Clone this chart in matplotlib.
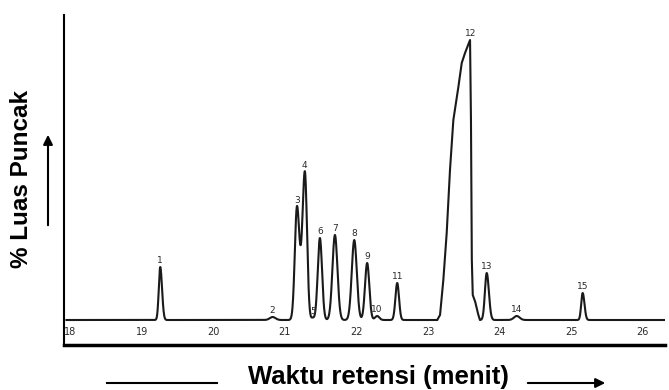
import numpy as np
import matplotlib
matplotlib.use("Agg")
import matplotlib.pyplot as plt
from matplotlib.lines import Line2D

# puncak kromatogram
peak_no = [str(i) for i in range(1, 16)]
peak_rt = [19.26, 20.83, 21.17, 21.28, 21.39, 21.49, 21.70, 21.97, 22.15, 22.29,
           22.57, 23.59, 23.82, 24.24, 25.16]
peak_h = [53, 3, 113, 148, 2, 82, 85, 80, 57, 4, 37, 280, 47, 4, 27]
sig_left = [0.02, 0.04, 0.03, 0.035, 0.02, 0.03, 0.035, 0.035, 0.03, 0.03,
            0.025, None, 0.025, 0.04, 0.02]
sig_right = [0.025, 0.04, 0.035, 0.03, 0.02, 0.03, 0.035, 0.035, 0.03, 0.03,
             0.025, None, 0.03, 0.04, 0.025]

# puncak 12 (besar, tidak simetris) dibaca titik demi titik
p12_t = [23.13, 23.144, 23.168, 23.214, 23.261, 23.307, 23.354, 23.424, 23.471,
         23.517, 23.587, 23.600, 23.612, 23.625, 23.66, 23.70, 23.725]
p12_h = [0, 2, 5, 40, 87, 150, 200, 233, 257, 267, 280, 200, 60, 25, 18, 6, 0]

ticks = [18, 19, 20, 21, 22, 23, 24, 25, 26]


def gauss(t, rt, h, sl, sr):
    s = np.where(t < rt, sl, sr)
    return h * np.exp(-(t - rt) ** 2 / (2 * s ** 2))


t = np.linspace(17.95, 26.3, 4000)
y = np.zeros_like(t)
for rt, h, sl, sr in zip(peak_rt, peak_h, sig_left, sig_right):
    if sl is None:
        continue
    y += gauss(t, rt, h, sl, sr)

# sisipkan puncak 12
keep = (t < p12_t[0]) | (t > p12_t[-1])
t_all = np.concatenate([t[keep], p12_t])
y_all = np.concatenate([y[keep], p12_h])
order = np.argsort(t_all)
t_all, y_all = t_all[order], y_all[order]

fig = plt.figure(figsize=(6.69, 3.90), dpi=100)
ax = fig.add_axes([64 / 669, (390 - 345) / 390, (665 - 64) / 669, (345 - 15) / 390])
ax.plot(t_all, y_all, color="#1a1a1a", lw=1.5)

ax.set_xlim(17.916, 26.31)
ax.set_ylim(-25, 305)
ax.set_xticks([])
ax.set_yticks([])
for s in ["top", "right"]:
    ax.spines[s].set_visible(False)
ax.spines["left"].set_linewidth(1.5)
ax.spines["bottom"].set_linewidth(2.5)

# label angka puncak
for lab, rt, h in zip(peak_no, peak_rt, peak_h):
    ax.text(rt, h + 2, lab, ha="center", va="bottom", fontsize=6.5, color="#2a2a2a")

# label waktu di atas garis bawah
for v in ticks:
    ax.text(v, -12, str(v), ha="center", va="center", fontsize=7, color="#2a2a2a")

# label sumbu
fig.text(378 / 669, 1 - 377 / 390, "Waktu retensi (menit)", ha="center", va="center",
         fontsize=18.5, fontweight="bold", family="Liberation Sans")
fig.add_artist(Line2D([107 / 669, 217 / 669], [1 - 383 / 390] * 2,
                      transform=fig.transFigure, color="black", lw=1.5))
ax.annotate("", xy=(608 / 669, 1 - 383 / 390), xytext=(525 / 669, 1 - 383 / 390),
            xycoords="figure fraction", textcoords="figure fraction",
            arrowprops=dict(arrowstyle="-|>", color="black", lw=1.5, mutation_scale=14))

fig.text(22 / 669, 1 - 179 / 390, "% Luas Puncak", ha="center", va="center",
         rotation=90, fontsize=17.5, fontweight="bold", family="Liberation Sans")
ax.annotate("", xy=(48 / 669, 1 - 132 / 390), xytext=(48 / 669, 1 - 228 / 390),
            xycoords="figure fraction", textcoords="figure fraction",
            arrowprops=dict(arrowstyle="-|>", color="black", lw=1.5, mutation_scale=14))

fig.savefig("out.png", dpi=100)
